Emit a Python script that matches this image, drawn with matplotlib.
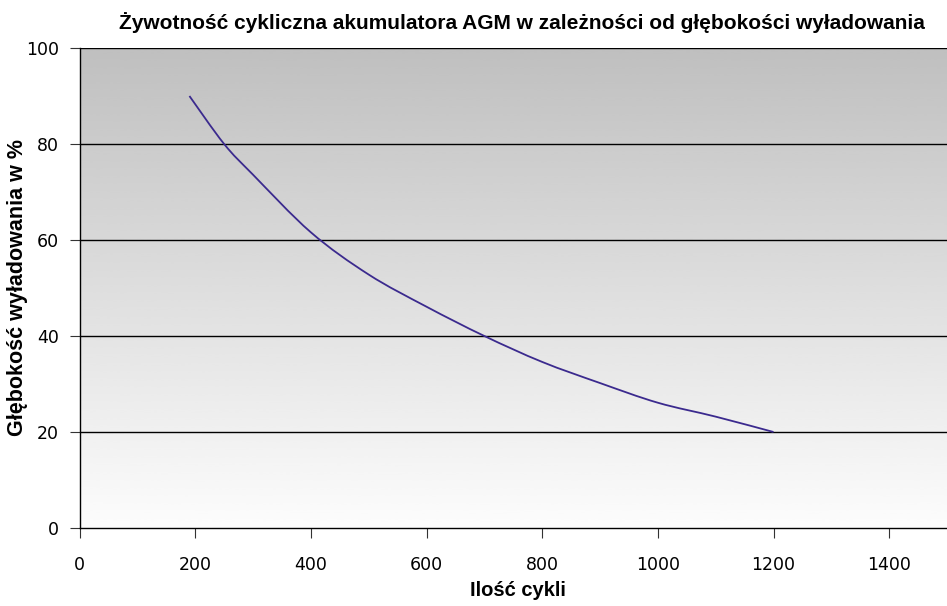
import numpy as np
import matplotlib
matplotlib.use("Agg")
import matplotlib.pyplot as plt
from matplotlib.path import Path
from matplotlib.patches import PathPatch

# cycles vs depth of discharge
cycles = [190, 250, 300, 400, 500, 600, 700, 800, 900, 1000, 1100, 1200]
depth = [90, 80, 73.6, 61.6, 52.8, 46.1, 40, 34.6, 30.2, 26.1, 23.2, 20]

x_ticks = [0, 200, 400, 600, 800, 1000, 1200, 1400]
y_ticks = [0, 20, 40, 60, 80, 100]

title = "Żywotność cykliczna akumulatora AGM w zależności od głębokości wyładowania"
x_label = "Ilość cykli"
y_label = "Głębokość wyładowania w %"


def smooth_path(xs, ys, t=1 / 6):
    # Excel-like smoothed line: cubic Bezier segments through the points
    pts = np.column_stack([xs, ys]).astype(float)
    verts = [pts[0]]
    codes = [Path.MOVETO]
    n = len(pts)
    for i in range(n - 1):
        p0 = pts[i - 1] if i > 0 else pts[i]
        p1 = pts[i]
        p2 = pts[i + 1]
        p3 = pts[i + 2] if i + 2 < n else pts[i + 1]
        c1 = p1 + (p2 - p0) * t
        c2 = p2 - (p3 - p1) * t
        verts += [c1, c2, p2]
        codes += [Path.CURVE4] * 3
    return Path(verts, codes)


fig = plt.figure(figsize=(9.47, 6.06), dpi=100)
ax = fig.add_axes([0.084, 0.1287, 0.916, 0.7921])

ax.set_xlim(0, 1500)
ax.set_ylim(0, 100)

# grey-to-white gradient of the plot area
grad = np.linspace(0.99, 0.75, 256).reshape(-1, 1)
ax.imshow(grad, extent=[0, 1500, 0, 100], origin="lower", aspect="auto",
          cmap="gray", vmin=0, vmax=1, zorder=0, interpolation="bicubic")

for yv in y_ticks[1:]:
    ax.axhline(yv, color="black", lw=1.0, zorder=1)

ax.add_patch(PathPatch(smooth_path(cycles, depth), facecolor="none",
                       edgecolor="#3b2a8e", lw=1.3, zorder=3))

ax.set_xticks(x_ticks)
ax.set_yticks(y_ticks)
ax.tick_params(direction="out", length=7, width=0.8, colors="#333333",
               labelcolor="black", labelsize=12.5)
ax.tick_params(axis="x", pad=13)
ax.tick_params(axis="y", pad=8)
for lab in ax.get_xticklabels() + ax.get_yticklabels():
    lab.set_family("DejaVu Sans")

for s in ["top", "right"]:
    ax.spines[s].set_visible(False)
for s in ["left", "bottom"]:
    ax.spines[s].set_color("black")
    ax.spines[s].set_linewidth(1.0)

fig.text(522 / 947, 1 - 23 / 606, title, fontsize=15, fontweight="bold",
         family="Liberation Sans", ha="center", va="center")
fig.text(518 / 947, 1 - 591 / 606, x_label, fontsize=14.5, fontweight="bold",
         family="Liberation Sans", ha="center", va="center")
fig.text(18 / 947, 1 - 287 / 606, y_label, fontsize=15.5, fontweight="bold",
         family="Liberation Sans", ha="center", va="center", rotation=90)

fig.savefig("out.png", dpi=100)
